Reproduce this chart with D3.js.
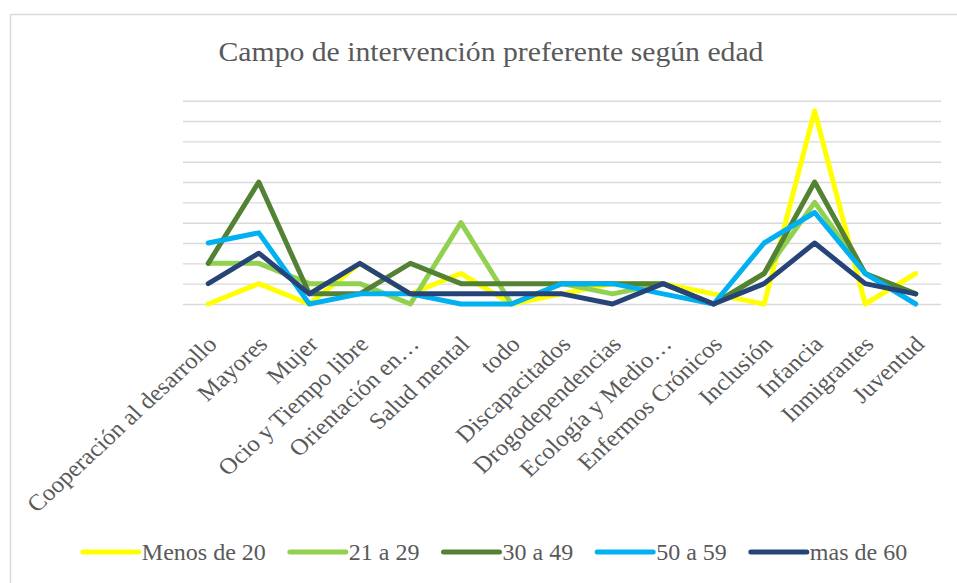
<!DOCTYPE html>
<html>
<head>
<meta charset="utf-8">
<script src="https://cdn.jsdelivr.net/npm/d3@7"></script>
<style>
  body { margin: 0; background: #fff; }
  svg { display: block; }
  svg text { font-family: 'Liberation Serif', 'Tinos', 'DejaVu Serif', serif; fill: #595959; }
</style>
</head>
<body>
<svg id="chart" width="957" height="583"></svg>
<script>
const categories = [
  'Cooperación al desarrollo', 'Mayores', 'Mujer', 'Ocio y Tiempo libre',
  'Orientación en…', 'Salud mental', 'todo', 'Discapacitados',
  'Drogodependencias', 'Ecología y Medio…', 'Enfermos Crónicos', 'Inclusión',
  'Infancia', 'Inmigrantes', 'Juventud'
];

const seriesNames = ['Menos de 20', '21 a 29', '30 a 49', '50 a 59', 'mas de 60'];
const seriesColors = ['#ffff00', '#92d050', '#548235', '#00b0f0', '#264478'];

const menos20 = [0, 2, 0, 4, 1, 3, 0, 1, 2, 2, 1, 0, 19, 0, 3];
const de21a29 = [4, 4, 2, 2, 0, 8, 0, 2, 1, 2, 0, 3, 10, 3, 1];
const de30a49 = [4, 12, 1, 1, 4, 2, 2, 2, 2, 2, 0, 3, 12, 3, 1];
const de50a59 = [6, 7, 0, 1, 1, 0, 0, 2, 2, 1, 0, 6, 9, 3, 0];
const mas60 = [2, 5, 1, 4, 1, 1, 1, 1, 0, 2, 0, 2, 6, 2, 1];

const gridTicks = [0, 2, 4, 6, 8, 10, 12, 14, 16, 18, 20];

const series = [menos20, de21a29, de30a49, de50a59, mas60].map((values, i) => ({
  name: seriesNames[i],
  color: seriesColors[i],
  values,
}));

const serif = "'Liberation Serif', 'Tinos', 'DejaVu Serif', serif";
// the source picture is a little stretched sideways, so text gets a small x-scale
const stretch = 1.08;
const svg = d3.select('#chart');

const plot = { left: 183, right: 941, top: 100.7, bottom: 304 };

const x = d3.scalePoint()
  .domain(categories)
  .range([plot.left, plot.right])
  .padding(0.5);

const y = d3.scaleLinear()
  .domain([0, 20])
  .range([plot.bottom, plot.top]);

// chart frame (right and bottom edges fall outside the picture)
svg.append('rect')
  .attr('x', 10.5)
  .attr('y', 14.5)
  .attr('width', 960)
  .attr('height', 580)
  .style('fill', 'none')
  .style('stroke', '#d9d9d9')
  .style('stroke-width', 1.5);

svg.append('text')
  .attr('transform', `translate(491,61) scale(${stretch},1)`)
  .attr('text-anchor', 'middle')
  .style('font-family', serif)
  .style('font-size', '27.5px')
  .text('Campo de intervención preferente según edad');

// horizontal gridlines, no labels
svg.append('g')
  .attr('class', 'grid')
  .attr('transform', `translate(${plot.left},0)`)
  .call(d3.axisLeft(y).tickValues(gridTicks).tickSize(-(plot.right - plot.left)).tickFormat(''))
  .call(g => g.select('.domain').remove())
  .call(g => g.selectAll('line').style('stroke', '#d9d9d9').style('stroke-width', 1.4));

// category labels, rotated
const xAxis = svg.append('g')
  .attr('transform', `translate(0,${plot.bottom})`)
  .call(d3.axisBottom(x).tickSize(0).tickPadding(0))
  .attr('font-family', null);
xAxis.select('.domain').remove();
xAxis.selectAll('text')
  .attr('y', 0)
  .attr('dy', '0.71em')
  .attr('text-anchor', 'end')
  .attr('transform', `translate(-3,30) scale(${stretch},1) rotate(-45)`)
  .style('font-family', serif)
  .style('font-size', '23px')
  .style('fill', '#595959');

const line = d3.line()
  .x((d, i) => x(categories[i]))
  .y(d => y(d));

svg.append('g')
  .selectAll('path')
  .data(series)
  .join('path')
  .attr('d', d => line(d.values))
  .style('fill', 'none')
  .style('stroke', d => d.color)
  .style('stroke-width', 5)
  .style('stroke-linejoin', 'round')
  .style('stroke-linecap', 'round');

// legend, laid out from measured text widths and centred
const legend = svg.append('g').attr('transform', 'translate(0,552)');
const keyLen = 56;
const keyGap = 3;
const itemGap = 24;
const items = legend.selectAll('g')
  .data(series)
  .join('g');
items.append('line')
  .attr('x1', 0)
  .attr('x2', keyLen)
  .style('stroke', d => d.color)
  .style('stroke-width', 5)
  .style('stroke-linecap', 'round');
items.append('text')
  .attr('x', keyLen + keyGap)
  .attr('dy', '0.35em')
  .style('font-family', serif)
  .style('font-size', '24px')
  .text(d => d.name);

const widths = [];
items.each(function () {
  widths.push(keyLen + keyGap + d3.select(this).select('text').node().getComputedTextLength());
});
const total = d3.sum(widths) + itemGap * (widths.length - 1);
let cursor = 495 - total / 2;
items.attr('transform', (d, i) => {
  const pos = cursor;
  cursor += widths[i] + itemGap;
  return `translate(${pos},0)`;
});
</script>
</body>
</html>
